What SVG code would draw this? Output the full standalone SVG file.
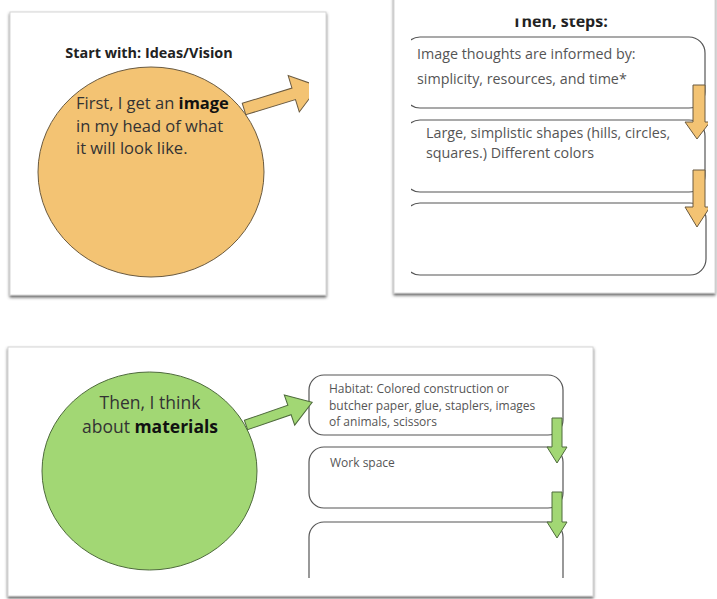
<svg xmlns="http://www.w3.org/2000/svg" width="717" height="599" viewBox="0 0 717 599">
  <defs>
    <filter id="cardShadow" x="-5%" y="-5%" width="110%" height="115%">
      <feDropShadow dx="0" dy="2" stdDeviation="1.6" flood-color="#444" flood-opacity="0.85"/>
    </filter>
    <clipPath id="clipIdeas"><rect x="10" y="12" width="299" height="283"/></clipPath>
    <clipPath id="clipSteps"><rect x="411" y="18.5" width="297" height="275"/></clipPath>
    <clipPath id="clipMaterials"><rect x="8" y="347" width="585" height="231"/></clipPath>
  </defs>
  <style>
    .card { fill: #ffffff; stroke: #d6d6d6; stroke-width: 1; filter: url(#cardShadow); }
    .box { fill: #ffffff; stroke: #555555; stroke-width: 1.2; }
    .orange { fill: #f3c373; stroke: #6a5a40; stroke-width: 1; }
    .green { fill: #a2d774; stroke: #4e6a3c; stroke-width: 1; }
    .title { font-family: "Open Sans", "Liberation Sans", sans-serif; font-weight: bold; font-size: 14.4px; fill: #222222; }
    .big { font-family: "Open Sans", "Liberation Sans", sans-serif; font-size: 16.5px; fill: #333333; }
    .big2 { font-family: "Open Sans", "Liberation Sans", sans-serif; font-size: 17.5px; fill: #333333; }
    .mid { font-family: "Open Sans", "Liberation Sans", sans-serif; font-size: 14.3px; fill: #555555; }
    .small { font-family: "Open Sans", "Liberation Sans", sans-serif; font-size: 12px; fill: #555555; }
    .bold { font-weight: bold; fill: #111111; }
  </style>

  <!-- Panel cards -->
  <rect class="card" x="10" y="12" width="316" height="283"/>
  <rect class="card" x="394" y="-4" width="321" height="297"/>
  <rect class="card" x="8" y="347" width="585" height="249"/>

  <!-- Panel 1: ideas / vision -->
  <g clip-path="url(#clipIdeas)">
    <text class="title" x="149" y="58" text-anchor="middle">Start with: Ideas/Vision</text>
    <g id="ideas">
      <ellipse class="orange" cx="151" cy="172" rx="113" ry="105"/>
      <text class="big" x="76" y="109">First, I get an <tspan class="bold">image</tspan></text>
      <text class="big" x="76" y="132">in my head of what</text>
      <text class="big" x="76" y="154">it will look like.</text>
    </g>
  </g>

  <!-- Panel 2: steps -->
  <g clip-path="url(#clipSteps)">
    <text class="title" x="560" y="27" text-anchor="middle" style="font-size:16px">Then, steps:</text>
    <g id="step1">
      <rect class="box" x="404" y="37" width="301" height="71" rx="16"/>
      <text class="mid" x="417" y="59">Image thoughts are informed by:</text>
      <text class="mid" x="417" y="84">simplicity, resources, and time*</text>
    </g>
    <g id="step2">
      <rect class="box" x="404" y="120" width="301" height="72" rx="16"/>
      <text class="mid" x="426" y="138">Large, simplistic shapes (hills, circles,</text>
      <text class="mid" x="426" y="158">squares.) Different colors</text>
    </g>
    <g id="step3">
      <rect class="box" x="404" y="203" width="302" height="72" rx="16"/>
    </g>
  </g>

  <!-- Panel 3: materials -->
  <g clip-path="url(#clipMaterials)">
    <g id="materials">
      <ellipse class="green" cx="149.5" cy="471" rx="107.5" ry="99"/>
      <text class="big2" x="150" y="409" text-anchor="middle">Then, I think</text>
      <text class="big2" x="150" y="433" text-anchor="middle">about <tspan class="bold">materials</tspan></text>
    </g>
    <g id="habitat">
      <rect class="box" x="309" y="375" width="254" height="60" rx="15"/>
      <text class="small" x="329" y="393">Habitat: Colored construction or</text>
      <text class="small" x="329" y="410">butcher paper, glue, staplers, images</text>
      <text class="small" x="329" y="426">of animals, scissors</text>
    </g>
    <g id="workspace">
      <rect class="box" x="309" y="447" width="254" height="61" rx="15"/>
      <text class="small" x="330" y="467">Work space</text>
    </g>
    <g id="blank">
      <rect class="box" x="309" y="522" width="254" height="70" rx="15"/>
    </g>
  </g>

  <!-- Connectors: block arrows -->
  <g id="connectors">
    <g clip-path="url(#clipIdeas)">
      <polygon class="orange" points="0,-6 52,-6 52,-19 78,0 52,19 52,6 0,6" transform="translate(244 109) rotate(-17)"/>
    </g>
    <g clip-path="url(#clipSteps)">
      <polygon class="orange" points="693,85 705,85 705,122 710,122 697,139 685,122 693,122"/>
      <polygon class="orange" points="693,170 705,170 705,207 710,207 697,227 685,207 693,207"/>
    </g>
    <polygon class="green" points="0,-5 46,-5 46,-16 70,0 46,16 46,5 0,5" transform="translate(246 425) rotate(-19)"/>
    <polygon class="green" points="552,418 562,418 562,447 567,447 557,463 547,447 552,447"/>
    <polygon class="green" points="552,492 562,492 562,522 567,522 557,538 547,522 552,522"/>
  </g>
</svg>
